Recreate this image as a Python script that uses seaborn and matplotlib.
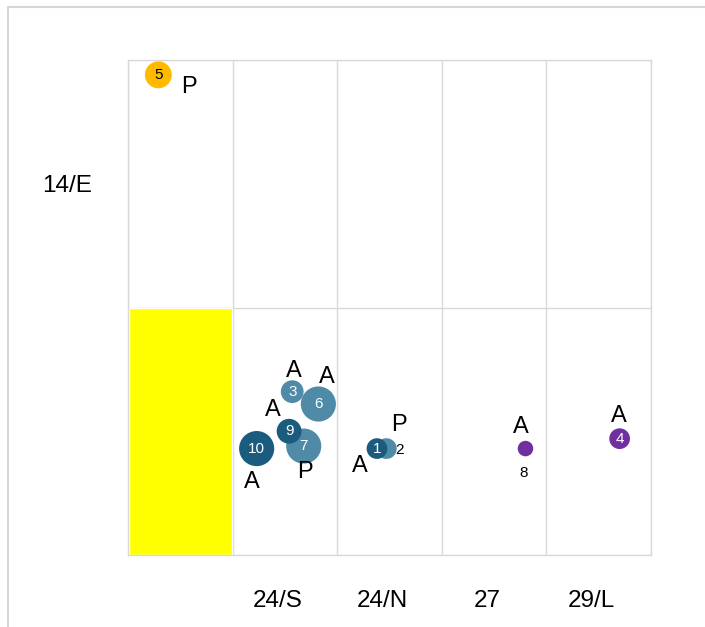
import pandas as pd
import seaborn as sns
import matplotlib.pyplot as plt
from matplotlib.patches import Rectangle

# point data (grid coordinates: column, row)
ids = ['5', '10', '7', '9', '6', '3', '2', '1', '8', '4']
xs = [0.29, 1.23, 1.68, 1.54, 1.82, 1.57, 2.47, 2.38, 3.80, 4.70]
ys = [1.94, 0.43, 0.44, 0.50, 0.61, 0.66, 0.43, 0.43, 0.43, 0.47]
weights = [169, 289, 289, 144, 289, 121, 100, 100, 56, 100]
groups = ['gold', 'dark', 'light', 'dark', 'light', 'light', 'light', 'dark', 'purple', 'purple']
letters = ['P', 'A', 'P', 'A', 'A', 'A', 'P', 'A', 'A', 'A']

x_labels = ['', '24/S', '24/N', '27', '29/L']
y_labels = ['', '14/E']
highlight_col = [0]
highlight_row = [0]

df = pd.DataFrame({'id': ids, 'x': xs, 'y': ys, 'w': weights,
                   'group': groups, 'letter': letters})

palette = {'gold': '#FFBA00', 'dark': '#1B5C7E', 'light': '#4F8BA7', 'purple': '#7030A0'}

# label placement (pixel offsets from point centre)
letter_off = [(31, -12), (-5, -33), (1, -26), (-16, 21), (8, 27),
              (2, 21), (13, 24), (-17, -17), (-5, 22), (-1, 23)]
num_off = {'2': (13, -1), '8': (-2, -24)}
num_color = {'5': 'black'}

sns.set_theme(style='white')
plt.rcParams['font.family'] = ['Liberation Sans', 'DejaVu Sans']

fig = plt.figure(figsize=(7.05, 6.27), dpi=100)
ax = fig.add_axes([128 / 705, 1 - 555 / 627, 523 / 705, 495 / 627])

# highlighted cell
ax.bar([c + 0.5 for c in highlight_col], [1] * len(highlight_col), bottom=highlight_row,
       width=0.99, color='#FFFF00', zorder=1)

sns.scatterplot(data=df, x='x', y='y', hue='group', palette=palette, size='w',
                sizes=(125, 640), size_norm=(56, 289), linewidth=0, alpha=1,
                legend=False, ax=ax, zorder=3)

for i, row in df.iterrows():
    dx, dy = letter_off[i]
    ax.annotate(row['letter'], (row['x'], row['y']), xytext=(dx, dy),
                textcoords='offset pixels', ha='center', va='center',
                fontsize=17, color='black', zorder=4)
    ndx, ndy = num_off.get(row['id'], (0, 0))
    col = 'black' if row['id'] in num_off else num_color.get(row['id'], 'white')
    ax.annotate(row['id'], (row['x'], row['y']), xytext=(ndx, ndy),
                textcoords='offset pixels', ha='center', va='center',
                fontsize=11, color=col, zorder=5)

ax.set_xlim(0, 5)
ax.set_ylim(0, 2)
ax.set_xticks([i + 0.43 for i in range(5)])
ax.set_xticklabels(x_labels, fontsize=17.5)
ax.set_yticks([i + 0.5 for i in range(2)])
ax.set_yticklabels(y_labels, fontsize=17.5)
ax.tick_params(axis='x', length=0, pad=25, labelcolor='black')
ax.tick_params(axis='y', length=0, pad=26, labelcolor='black')
ax.set_xticks(range(6), minor=True)
ax.set_yticks(range(3), minor=True)
ax.tick_params(which='minor', length=0)
ax.grid(which='minor', color='#D9D9D9', linewidth=1)
ax.grid(which='major', visible=False)
ax.set_axisbelow(True)
for s in ax.spines.values():
    s.set_color('#D9D9D9')
    s.set_linewidth(1)
ax.set_xlabel('')
ax.set_ylabel('')

# outer frame
fig.patches.append(Rectangle((8 / 705, -0.1), 1.1, 1.1 - 7 / 627,
                             transform=fig.transFigure, fill=False,
                             edgecolor='#D6D6D6', linewidth=1.5))

fig.savefig('out.png', dpi=100)
